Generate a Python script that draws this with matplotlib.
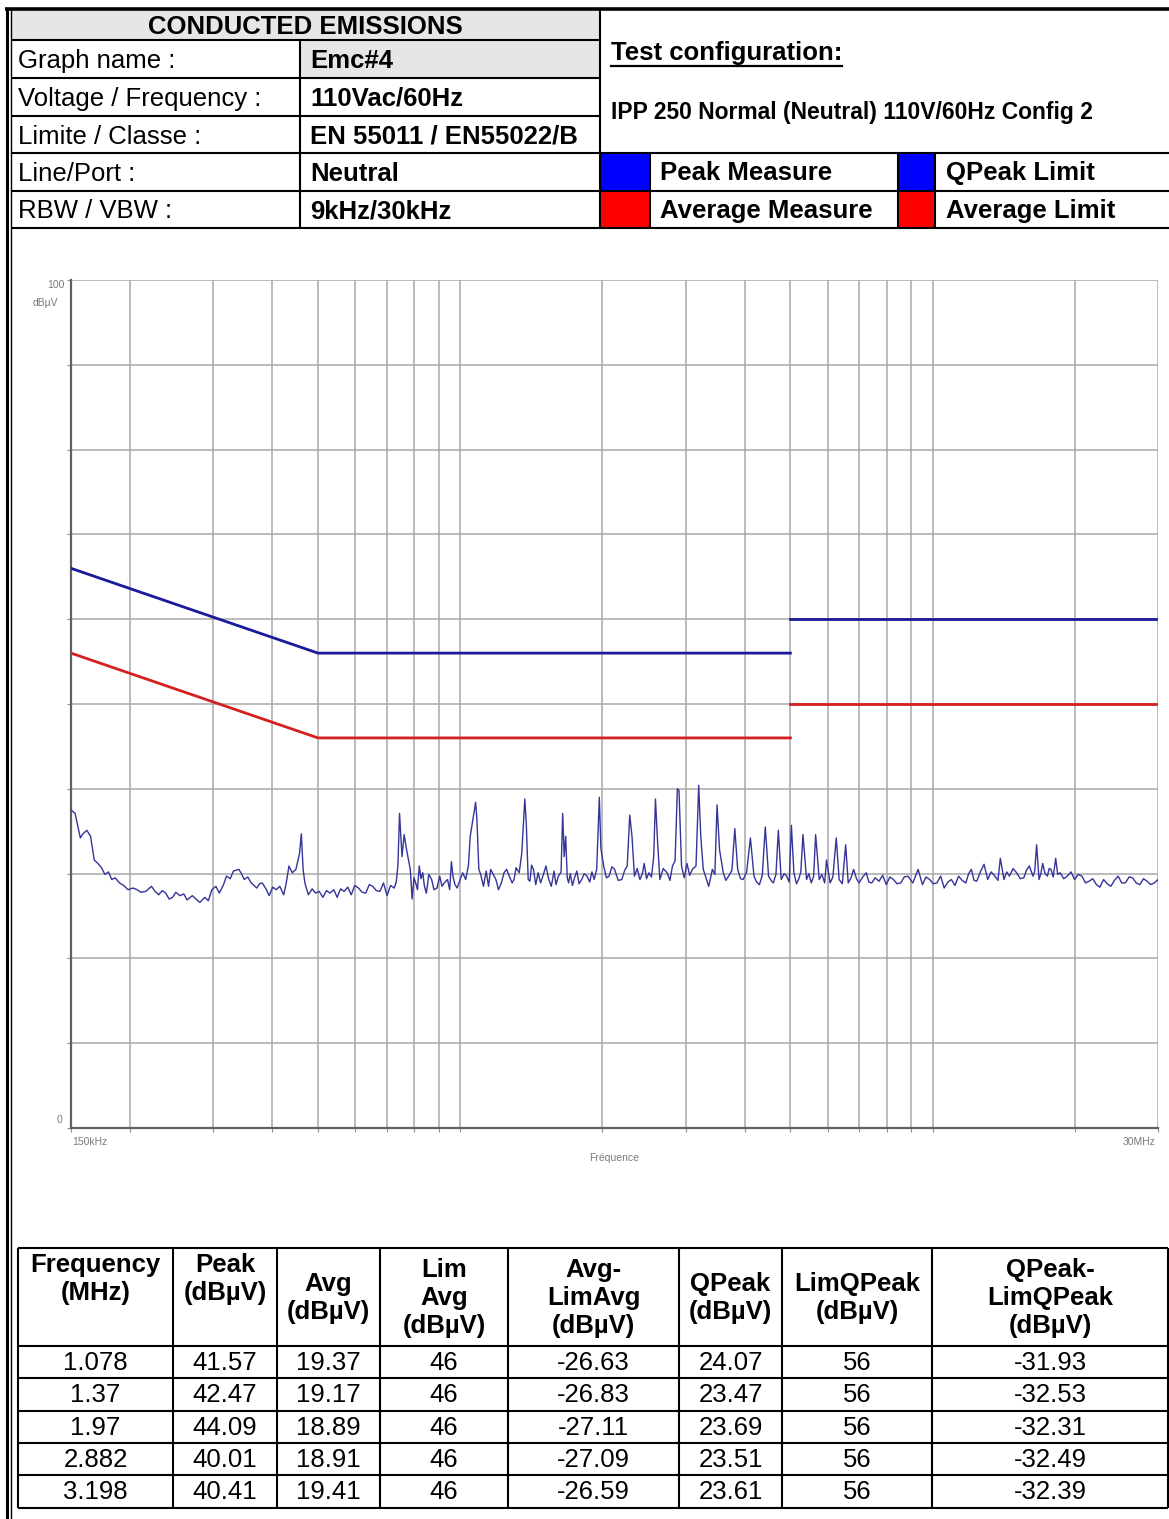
import numpy as np
import matplotlib
matplotlib.use('Agg')
import matplotlib.pyplot as plt
from matplotlib.patches import Rectangle
from matplotlib.ticker import FixedLocator, NullFormatter

plt.rcParams['font.family'] = ['Liberation Sans', 'DejaVu Sans']

# ---- header information ----
TITLE = 'CONDUCTED EMISSIONS'
info_labels = ['Graph name :', 'Voltage / Frequency :', 'Limite / Classe :', 'Line/Port :', 'RBW / VBW :']
info_values = ['Emc#4', '110Vac/60Hz', 'EN 55011 / EN55022/B', 'Neutral', '9kHz/30kHz']
config_title = 'Test configuration:'
config_text = 'IPP 250 Normal (Neutral) 110V/60Hz Config 2'
legend_names = ['Peak Measure', 'QPeak Limit', 'Average Measure', 'Average Limit']
legend_colors = ['#0000ff', '#0000ff', '#ff0000', '#ff0000']

# ---- limit lines (MHz, dBuV) ----
qp_lim_mhz_1 = [0.15, 0.5, 5.0]
qp_lim_db_1 = [66, 56, 56]
qp_lim_mhz_2 = [5.0, 30.0]
qp_lim_db_2 = [60, 60]
avg_lim_mhz_1 = [0.15, 0.5, 5.0]
avg_lim_db_1 = [56, 46, 46]
avg_lim_mhz_2 = [5.0, 30.0]
avg_lim_db_2 = [50, 50]

# ---- peak trace (MHz, dBuV) ----
trace_mhz = [
    0.150, 0.153, 0.157, 0.159, 0.162, 0.165, 0.168, 0.171, 0.174, 0.177,
    0.180, 0.183, 0.186, 0.190, 0.194, 0.198, 0.203, 0.207, 0.211, 0.216,
    0.222, 0.226, 0.230, 0.234, 0.238, 0.242, 0.246, 0.250, 0.255, 0.260,
    0.264, 0.271, 0.276, 0.281, 0.288, 0.293, 0.298, 0.304, 0.309, 0.315,
    0.320, 0.326, 0.331, 0.340, 0.345, 0.349, 0.355, 0.361, 0.366, 0.371,
    0.376, 0.381, 0.388, 0.394, 0.401, 0.408, 0.415, 0.423, 0.428, 0.434,
    0.441, 0.449, 0.457, 0.461, 0.465, 0.469, 0.477, 0.486, 0.494, 0.503,
    0.512, 0.521, 0.530, 0.540, 0.549, 0.558, 0.568, 0.578, 0.588, 0.598,
    0.609, 0.620, 0.631, 0.642, 0.653, 0.664, 0.676, 0.688, 0.700, 0.712,
    0.725, 0.732, 0.738, 0.744, 0.753, 0.761, 0.770, 0.784, 0.791, 0.798,
    0.805, 0.812, 0.819, 0.826, 0.833, 0.840, 0.848, 0.858, 0.870, 0.880,
    0.893, 0.905, 0.915, 0.925, 0.940, 0.950, 0.958, 0.966, 0.975, 0.985,
    1.000, 1.012, 1.027, 1.041, 1.050, 1.078, 1.085, 1.095, 1.105, 1.120,
    1.135, 1.148, 1.160, 1.175, 1.190, 1.205, 1.222, 1.238, 1.254, 1.270,
    1.288, 1.300, 1.313, 1.333, 1.350, 1.370, 1.380, 1.393, 1.405, 1.416,
    1.429, 1.445, 1.462, 1.480, 1.500, 1.519, 1.540, 1.559, 1.580, 1.595,
    1.614, 1.635, 1.648, 1.660, 1.672, 1.685, 1.696, 1.710, 1.728, 1.746,
    1.765, 1.785, 1.808, 1.830, 1.856, 1.880, 1.900, 1.921, 1.945, 1.970,
    1.985, 2.012, 2.040, 2.066, 2.095, 2.122, 2.160, 2.198, 2.230, 2.257,
    2.285, 2.310, 2.338, 2.370, 2.401, 2.430, 2.452, 2.480, 2.509, 2.540,
    2.568, 2.590, 2.613, 2.646, 2.690, 2.741, 2.780, 2.814, 2.850, 2.882,
    2.905, 2.941, 2.980, 3.020, 3.060, 3.101, 3.156, 3.198, 3.230, 3.270,
    3.310, 3.358, 3.418, 3.460, 3.497, 3.540, 3.604, 3.650, 3.700, 3.760,
    3.813, 3.867, 3.920, 3.971, 4.040, 4.114, 4.187, 4.240, 4.299, 4.360,
    4.424, 4.495, 4.550, 4.599, 4.660, 4.714, 4.781, 4.850, 4.910, 4.970,
    5.024, 5.086, 5.150, 5.204, 5.260, 5.316, 5.410, 5.470, 5.536, 5.600,
    5.654, 5.755, 5.830, 5.910, 5.962, 6.068, 6.150, 6.252, 6.341, 6.440,
    6.546, 6.627, 6.720, 6.805, 6.900, 6.988, 7.110, 7.239, 7.330, 7.433,
    7.560, 7.700, 7.840, 7.977, 8.120, 8.264, 8.410, 8.561, 8.710, 8.868,
    9.080, 9.318, 9.517, 9.680, 9.859, 10.03, 10.21, 10.40, 10.58, 10.77,
    10.96, 11.15, 11.35, 11.55, 11.76, 11.92, 12.08, 12.24, 12.40, 12.62,
    12.85, 13.08, 13.30, 13.55, 13.75, 13.91, 14.16, 14.35, 14.54, 14.80,
    15.06, 15.33, 15.60, 15.80, 16.02, 16.31, 16.45, 16.60, 16.80, 16.95,
    17.10, 17.30, 17.50, 17.65, 17.81, 18.00, 18.22, 18.40, 18.61, 18.95,
    19.29, 19.63, 19.98, 20.34, 20.70, 21.07, 21.44, 21.83, 22.22, 22.60,
    23.01, 23.42, 23.84, 24.26, 24.70, 25.14, 25.59, 26.05, 26.51, 26.98,
    27.46, 27.95, 28.44, 28.95, 29.47, 30.00,
]
trace_dbuv = [
    37.5, 37.1, 34.2, 34.7, 35.1, 34.4, 31.6, 31.2, 30.7, 29.9,
    30.2, 29.3, 29.5, 28.9, 28.6, 28.1, 28.3, 28.1, 27.8, 27.9,
    28.5, 27.9, 27.5, 28.0, 27.7, 27.0, 27.2, 27.8, 27.4, 27.6,
    26.9, 27.4, 27.0, 26.6, 27.2, 26.8, 28.1, 28.5, 27.7, 28.6,
    29.7, 29.4, 30.3, 30.5, 29.9, 29.3, 29.6, 28.9, 28.6, 28.3,
    28.8, 28.9, 28.2, 27.4, 28.4, 28.1, 28.5, 27.5, 28.8, 30.9,
    30.1, 30.5, 32.4, 34.7, 30.5, 28.9, 27.5, 28.2, 27.7, 27.9,
    27.2, 28.0, 27.7, 28.1, 27.2, 28.2, 27.9, 28.4, 27.5, 28.6,
    28.3, 27.8, 27.7, 28.7, 28.5, 28.0, 27.9, 28.9, 27.4, 28.6,
    28.3, 29.0, 30.9, 37.1, 32.0, 34.6, 32.8, 30.5, 27.0, 29.5,
    28.9, 28.1, 30.9, 29.4, 30.1, 28.5, 27.7, 29.9, 29.3, 28.1,
    28.3, 29.7, 28.5, 28.9, 29.3, 28.1, 31.4, 29.6, 28.7, 28.3,
    29.3, 30.1, 29.3, 31.0, 34.4, 38.4, 36.3, 30.5, 29.9, 28.5,
    30.3, 28.5, 30.5, 29.9, 29.3, 28.1, 28.9, 30.1, 30.5, 29.7,
    28.9, 29.3, 30.7, 30.1, 32.4, 38.8, 35.9, 29.3, 29.1, 31.0,
    30.5, 28.7, 30.1, 28.9, 29.9, 30.9, 29.3, 28.5, 30.3, 28.7,
    29.7, 30.2, 37.1, 32.0, 34.4, 29.5, 28.9, 30.0, 28.6, 29.5,
    30.3, 28.8, 29.3, 30.0, 29.7, 29.0, 30.2, 29.3, 30.5, 39.0,
    33.0, 30.9, 29.5, 29.7, 30.8, 30.5, 29.2, 29.3, 30.4, 30.9,
    36.9, 34.4, 29.7, 30.6, 29.3, 30.0, 31.2, 29.4, 30.1, 29.6,
    32.0, 38.8, 34.4, 29.3, 30.6, 30.1, 29.2, 30.9, 31.5, 40.0,
    39.8, 30.9, 29.5, 31.2, 29.8, 30.5, 30.9, 40.4, 34.4, 30.5,
    29.6, 28.5, 30.5, 29.9, 38.1, 32.8, 30.1, 29.2, 29.7, 30.4,
    35.3, 30.5, 29.4, 29.3, 30.2, 34.2, 29.7, 29.0, 28.7, 29.8,
    35.5, 29.7, 29.2, 28.9, 29.9, 35.1, 29.3, 30.0, 29.7, 29.0,
    35.7, 30.1, 28.8, 29.3, 30.2, 34.6, 29.3, 30.0, 28.9, 29.7,
    34.6, 29.3, 29.9, 28.9, 31.6, 28.9, 29.6, 34.2, 29.3, 28.8,
    33.4, 28.9, 29.5, 30.5, 29.4, 28.9, 29.6, 30.1, 29.0, 28.9,
    29.5, 29.1, 29.8, 28.7, 29.6, 29.3, 28.8, 28.9, 29.6, 29.7,
    28.9, 30.5, 28.7, 29.6, 29.3, 28.8, 28.9, 29.7, 28.3, 29.0,
    29.3, 28.6, 29.7, 29.2, 28.9, 30.0, 30.5, 29.2, 29.1, 30.2,
    31.1, 29.3, 30.2, 29.7, 29.2, 31.8, 29.3, 30.2, 29.7, 30.6,
    30.1, 29.4, 29.5, 30.4, 30.9, 29.7, 30.3, 33.4, 29.3, 30.0,
    31.2, 30.0, 29.7, 30.6, 30.5, 29.6, 31.8, 29.9, 30.1, 29.4,
    29.7, 30.2, 29.3, 29.9, 29.7, 28.9, 29.1, 29.4, 28.7, 28.4,
    29.3, 28.8, 28.5, 29.2, 29.7, 28.9, 28.9, 29.6, 29.5, 28.9,
    28.7, 29.4, 29.1, 28.7, 28.9, 29.3,
]

# ---- results table ----
col_headers = ['Frequency\n(MHz)', 'Peak\n(dB\u00b5V)', 'Avg\n(dB\u00b5V)', 'Lim\nAvg\n(dB\u00b5V)',
               'Avg-\nLimAvg\n(dB\u00b5V)', 'QPeak\n(dB\u00b5V)', 'LimQPeak\n(dB\u00b5V)',
               'QPeak-\nLimQPeak\n(dB\u00b5V)']
res_freq = [1.078, 1.37, 1.97, 2.882, 3.198]
res_peak = [41.57, 42.47, 44.09, 40.01, 40.41]
res_avg = [19.37, 19.17, 18.89, 18.91, 19.41]
res_lim_avg = [46, 46, 46, 46, 46]
res_avg_delta = [-26.63, -26.83, -27.11, -27.09, -26.59]
res_qpeak = [24.07, 23.47, 23.69, 23.51, 23.61]
res_lim_qpeak = [56, 56, 56, 56, 56]
res_qpeak_delta = [-31.93, -32.53, -32.31, -32.49, -32.39]

W, H = 1169, 1519
fig = plt.figure(figsize=(W / 100, H / 100), dpi=100)
ov = fig.add_axes([0, 0, 1, 1])
ov.set_xlim(0, W)
ov.set_ylim(H, 0)
ov.axis('off')


def hline(y, x0, x1, lw=1.5):
    ov.plot([x0, x1], [y, y], color='black', lw=lw, solid_capstyle='butt')


def vline(x, y0, y1, lw=1.5):
    ov.plot([x, x], [y0, y1], color='black', lw=lw, solid_capstyle='butt')


# page frame
hline(9, 5, W, lw=2.6)
vline(6.5, 8, H, lw=2.2)
vline(11, 8, H, lw=1.0)

# header table
ov.add_patch(Rectangle((11, 10), 589, 30, color='#e6e6e6', lw=0))
ov.add_patch(Rectangle((300, 40), 300, 38, color='#e6e6e6', lw=0))
row_y = [40, 78, 116, 153, 191, 228]
for y in row_y[:3]:
    hline(y, 11, 600)
for y in row_y[3:]:
    hline(y, 11, W)
vline(300, 40, 228)
vline(600, 9, 228)
for x in (650, 898, 935):
    vline(x, 153, 228)

ov.text(305, 27, TITLE, ha='center', va='center', fontsize=18.5, fontweight='bold')
for i, (lab, val) in enumerate(zip(info_labels, info_values)):
    yc = (row_y[i] + row_y[i + 1]) / 2 + 2
    ov.text(18, yc, lab, ha='left', va='center', fontsize=18.5)
    ov.text(310, yc, val, ha='left', va='center', fontsize=18.5, fontweight='bold')

t_cfg = ov.text(611, 53, config_title, ha='left', va='center', fontsize=18.5, fontweight='bold')
ov.text(611, 112, config_text, ha='left', va='center', fontsize=16.5, fontweight='bold')

sq_x = [601, 898, 601, 898]
txt_x = [660, 946, 660, 946]
sq_y = [153, 153, 191, 191]
for name, col, sx, tx, sy in zip(legend_names, legend_colors, sq_x, txt_x, sq_y):
    sw = 49 if sx == 601 else 37
    ov.add_patch(Rectangle((sx, sy + 1), sw, 37, color=col, lw=0))
    ov.text(tx, sy + 20, name, ha='left', va='center', fontsize=18.5, fontweight='bold')

# results table
col_x = [18, 173, 277, 380, 508, 679, 782, 932, 1168]
tab_top, head_bot, row_h = 1248, 1346, 32.3
n_rows = len(res_freq)
tab_bot = head_bot + n_rows * row_h
hline(tab_top, col_x[0], col_x[-1])
hline(head_bot, col_x[0], col_x[-1])
for r in range(1, n_rows + 1):
    hline(head_bot + r * row_h, col_x[0], col_x[-1])
for x in col_x:
    vline(x, tab_top, tab_bot)

for j, head in enumerate(col_headers):
    xc = (col_x[j] + col_x[j + 1]) / 2
    if j < 2:
        ov.text(xc, tab_top + 5, head, ha='center', va='top', fontsize=18.5,
                fontweight='bold', linespacing=1.2)
    else:
        ov.text(xc, (tab_top + head_bot) / 2 + 1, head, ha='center', va='center',
                fontsize=18.5, fontweight='bold', linespacing=1.2)

columns = [res_freq, res_peak, res_avg, res_lim_avg, res_avg_delta,
           res_qpeak, res_lim_qpeak, res_qpeak_delta]
for j, col in enumerate(columns):
    xc = (col_x[j] + col_x[j + 1]) / 2
    for r, v in enumerate(col):
        yc = head_bot + (r + 0.5) * row_h
        ov.text(xc, yc + 1, f'{v:g}', ha='center', va='center', fontsize=18.5)

# ---- chart ----
ax_l, ax_r, ax_t, ax_b = 71, 1158, 280, 1128
ax = fig.add_axes([ax_l / W, 1 - ax_b / H, (ax_r - ax_l) / W, (ax_b - ax_t) / H])
ax.set_facecolor('none')
ax.set_xscale('log')
ax.set_xlim(0.15, 30)
ax.set_ylim(0, 100)

grid_f = [0.2, 0.3, 0.4, 0.5, 0.6, 0.7, 0.8, 0.9, 1, 2, 3, 4, 5, 6, 7, 8, 9, 10, 20, 30]
for f in grid_f:
    ax.axvline(f, color='#a8a8a8', lw=1.1, zorder=0)
for v in range(10, 101, 10):
    ax.axhline(v, color='#a8a8a8', lw=1.1, zorder=0)

ax.plot(qp_lim_mhz_1, qp_lim_db_1, color='#1a1a9a', lw=2.0, zorder=3)
ax.plot(qp_lim_mhz_2, qp_lim_db_2, color='#1a1a9a', lw=2.0, zorder=3)
ax.plot(avg_lim_mhz_1, avg_lim_db_1, color='#d42020', lw=2.0, zorder=3)
ax.plot(avg_lim_mhz_2, avg_lim_db_2, color='#d42020', lw=2.0, zorder=3)
ax.plot(trace_mhz, trace_dbuv, color='#34349a', lw=1.0, zorder=4)

for s in ('top', 'right'):
    ax.spines[s].set_visible(False)
for s in ('left', 'bottom'):
    ax.spines[s].set_color('#606060')
    ax.spines[s].set_linewidth(1.6)
ax.xaxis.set_major_locator(FixedLocator([0.15] + grid_f))
ax.xaxis.set_minor_locator(FixedLocator([]))
ax.xaxis.set_major_formatter(NullFormatter())
ax.yaxis.set_major_locator(FixedLocator(range(0, 101, 10)))
ax.yaxis.set_major_formatter(NullFormatter())
ax.tick_params(length=3, color='#909090', width=0.8)

lab_kw = dict(fontsize=7.5, color='#7a7a7a')
ax.text(-0.006, 1.0, '100', transform=ax.transAxes, ha='right', va='top', **lab_kw)
ax.text(-0.012, 0.979, 'dB\u00b5V', transform=ax.transAxes, ha='right', va='top', **lab_kw)
ax.text(-0.008, 0.004, '0', transform=ax.transAxes, ha='right', va='bottom', **lab_kw)
ax.text(0.001, -0.011, '150kHz', transform=ax.transAxes, ha='left', va='top', **lab_kw)
ax.text(0.998, -0.011, '30MHz', transform=ax.transAxes, ha='right', va='top', **lab_kw)
ax.text(0.5, -0.030, 'Fr\u00e9quence', transform=ax.transAxes, ha='center', va='top', **lab_kw)

# underline for the configuration title
fig.canvas.draw()
bb = t_cfg.get_window_extent()
inv = ov.transData.inverted()
(x0, y0), (x1, y1) = inv.transform([[bb.x0, bb.y0], [bb.x1, bb.y1]])
ov.plot([x0, x1], [y0 + 1, y0 + 1], color='black', lw=1.6)

fig.savefig('out.png', dpi=100)
